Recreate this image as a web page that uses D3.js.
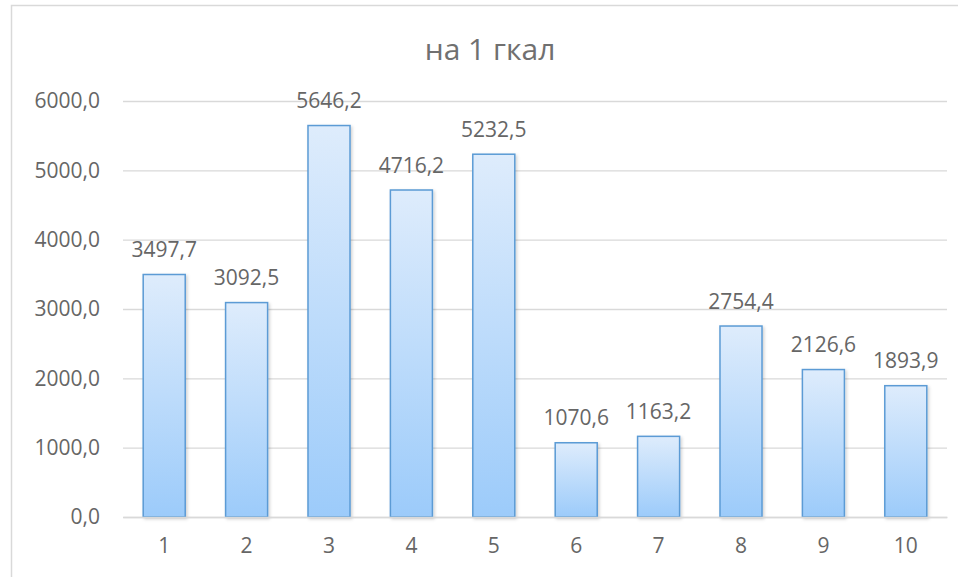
<!DOCTYPE html>
<html>
<head>
<meta charset="utf-8">
<script src="https://cdn.jsdelivr.net/npm/d3@7"></script>
<style>
  body { margin: 0; background: #fff; }
  text { font-family: "Open Sans", sans-serif; fill: #666; }
</style>
</head>
<body>
<script>
var categories = ["1", "2", "3", "4", "5", "6", "7", "8", "9", "10"];
var values = [3497.7, 3092.5, 5646.2, 4716.2, 5232.5, 1070.6, 1163.2, 2754.4, 2126.6, 1893.9];
var yTicks = [0, 1000, 2000, 3000, 4000, 5000, 6000];
var title = "на 1 гкал";

var w = 958, h = 577;
var plotLeft = 123, plotRight = 947, plotTop = 101, plotBottom = 517;

var svg = d3.select("body").append("svg")
    .attr("width", w)
    .attr("height", h);

// chart frame
svg.append("rect")
    .attr("x", 11.5).attr("y", 5.5)
    .attr("width", 1000).attr("height", 1000)
    .style("fill", "#fff")
    .style("stroke", "#d9d9d9")
    .style("stroke-width", 1.5);

var defs = svg.append("defs");
var grad = defs.append("linearGradient")
    .attr("id", "barGrad")
    .attr("x1", 0).attr("y1", 0).attr("x2", 0).attr("y2", 1);
grad.append("stop").attr("offset", "0%").attr("stop-color", "#deecfc");
grad.append("stop").attr("offset", "100%").attr("stop-color", "#9ccbfa");

var shadow = defs.append("filter").attr("id", "shadow")
    .attr("x", "-20%").attr("y", "-5%").attr("width", "150%").attr("height", "115%");
shadow.append("feDropShadow")
    .attr("dx", 1.5).attr("dy", 1.5).attr("stdDeviation", 1.5)
    .attr("flood-color", "#000").attr("flood-opacity", 0.18);

var x = d3.scaleBand()
    .domain(categories)
    .range([plotLeft, plotRight])
    .paddingInner(0.49)
    .paddingOuter(0.245);

var y = d3.scaleLinear()
    .domain([0, 6000])
    .range([plotBottom, plotTop]);

var fmt = function(v){ return d3.format(".1f")(v).replace(".", ","); };

// gridlines
var yAxis = d3.axisLeft(y)
    .tickValues(yTicks)
    .tickSize(-(plotRight - plotLeft))
    .tickPadding(23)
    .tickFormat(fmt);

var gy = svg.append("g")
    .attr("transform", "translate(" + plotLeft + ",0)")
    .call(yAxis);
gy.select(".domain").remove();
gy.selectAll("line").style("stroke", "#d9d9d9").style("stroke-width", 1.3);
gy.selectAll("text").style("font-size", "21px").style("fill", "#666");

// bars
svg.selectAll(".bar")
    .data(values)
    .enter()
    .append("rect")
    .attr("class", "bar")
    .attr("x", function(d, i){ return x(categories[i]); })
    .attr("y", function(d){ return y(d); })
    .attr("width", x.bandwidth())
    .attr("height", function(d){ return plotBottom - y(d); })
    .attr("filter", "url(#shadow)")
    .style("fill", "url(#barGrad)")
    .style("stroke", "#5b9bd5")
    .style("stroke-width", 1.5);

// value labels
svg.selectAll(".label")
    .data(values)
    .enter()
    .append("text")
    .attr("class", "label")
    .attr("text-anchor", "middle")
    .attr("x", function(d, i){ return x(categories[i]) + x.bandwidth() / 2; })
    .attr("y", function(d){ return y(d) - 17.5; })
    .style("font-size", "21px")
    .text(fmt);

// x axis
var xAxis = d3.axisBottom(x).tickSize(0).tickPadding(21);
var gx = svg.append("g")
    .attr("transform", "translate(0," + plotBottom + ")")
    .call(xAxis);
gx.select(".domain").style("stroke", "#d9d9d9").style("stroke-width", 1.3);
gx.selectAll("text").style("font-size", "21px").style("fill", "#666");

svg.append("text")
    .attr("x", 490)
    .attr("y", 60)
    .attr("text-anchor", "middle")
    .style("font-size", "30px")
    .style("fill", "#707070")
    .text(title);
</script>
</body>
</html>
